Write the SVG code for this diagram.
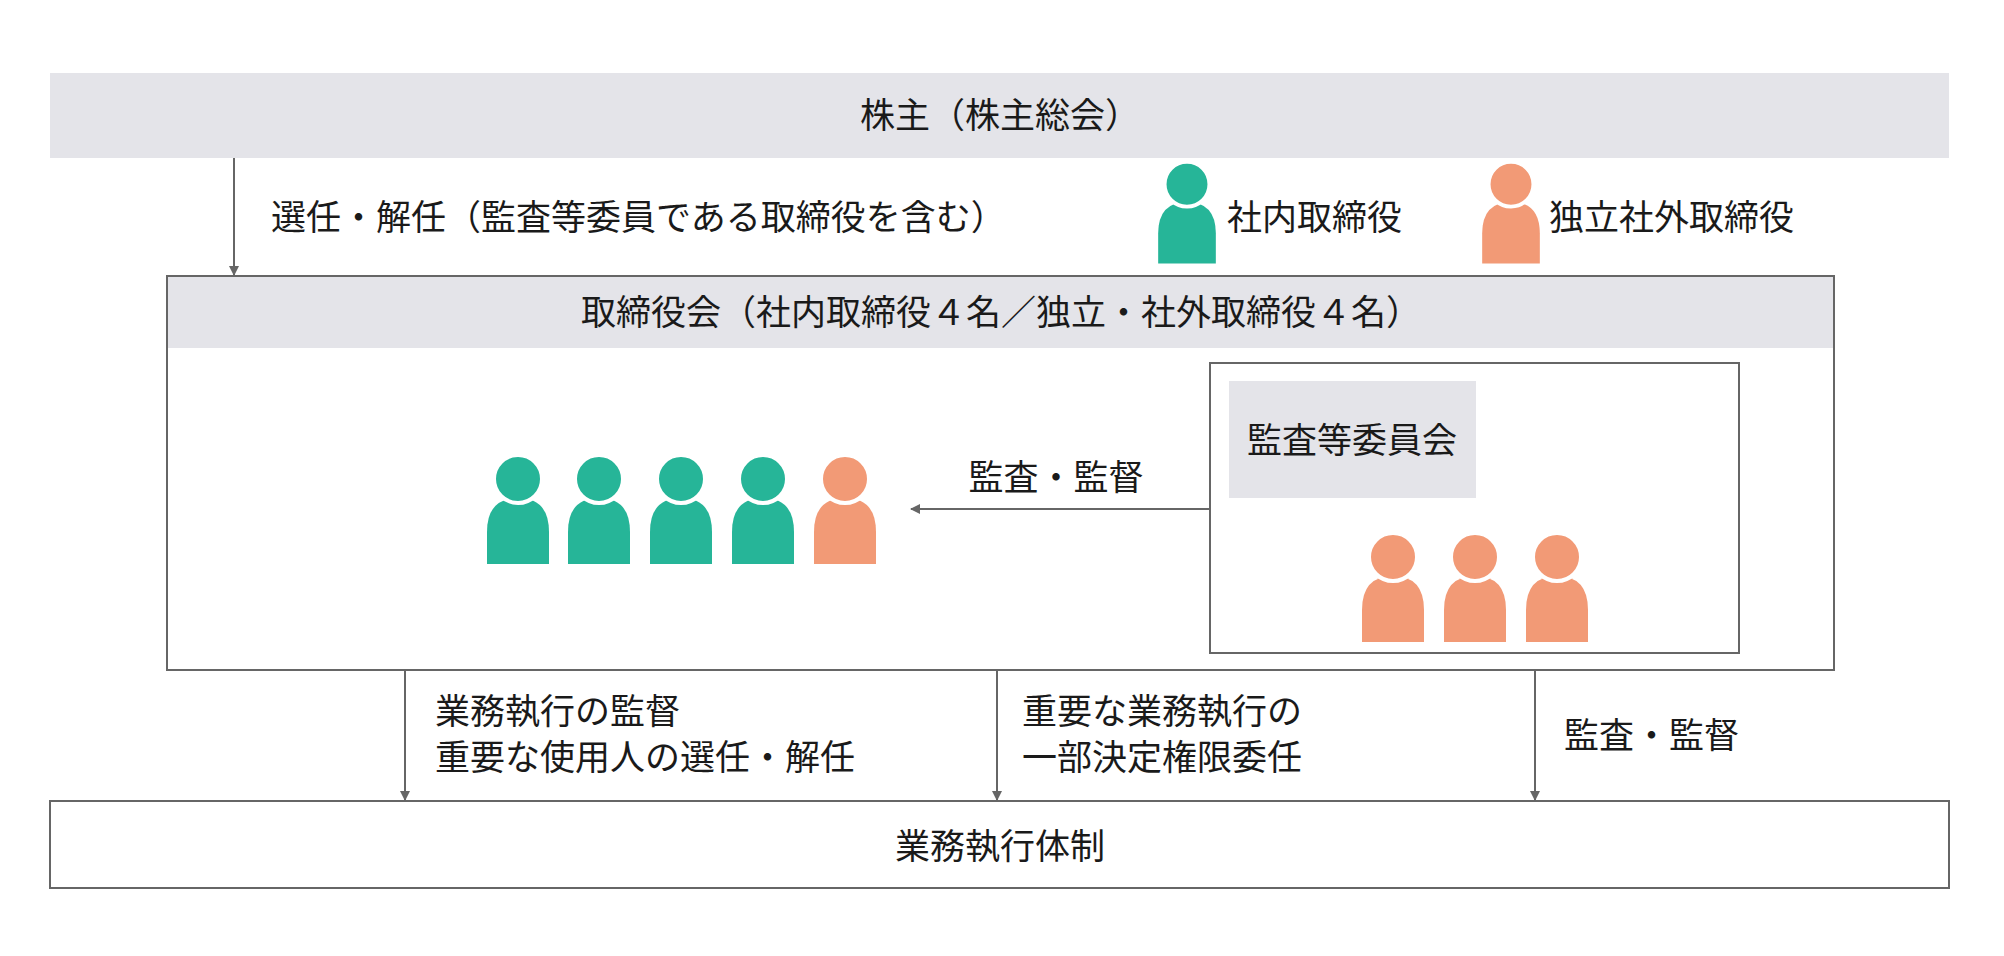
<svg xmlns="http://www.w3.org/2000/svg" width="2004" height="956" viewBox="0 0 2004 956">
<style>
text{font-family:"Noto Sans CJK JP","Noto Sans",sans-serif;font-size:35px;fill:#1a1a1a}
.c{text-anchor:middle}
.g{fill:#26b598}.o{fill:#f29a76}
.head{stroke:#fff;stroke-width:4}
.ln{stroke:#666;stroke-width:2;fill:none}
</style>
<defs>
<marker id="ar" markerWidth="10" markerHeight="10" refX="9" refY="5" orient="auto" markerUnits="userSpaceOnUse"><path d="M0,0L10,5L0,10Z" fill="#666"/></marker>
<g id="p"><path d="M-31,66V34Q-31,0 0,0Q31,0 31,34V66Z"/><circle class="head" cy="-19" r="24"/></g>
</defs>
<rect width="2004" height="956" fill="#fff"/>
<g id="shareholders"><rect x="50" y="73" width="1899" height="85" fill="#e4e4e9"/><text class="c" x="1000" y="128">株主（株主総会）</text></g>
<g id="legend">
<use href="#p" class="g" transform="translate(1187,202) scale(0.93)"/><text x="1227" y="230">社内取締役</text>
<use href="#p" class="o" transform="translate(1511,202) scale(0.93)"/><text x="1549" y="230">独立社外取締役</text>
</g>
<g id="board">
<rect x="167" y="276" width="1667" height="394" fill="#fff" stroke="#666" stroke-width="2"/>
<rect x="168" y="277" width="1665" height="71" fill="#e4e4e9"/>
<text class="c" x="1001" y="325">取締役会（社内取締役４名／独立・社外取締役４名）</text>
<use href="#p" class="g" x="518" y="498"/><use href="#p" class="g" x="599" y="498"/><use href="#p" class="g" x="681" y="498"/><use href="#p" class="g" x="763" y="498"/><use href="#p" class="o" x="845" y="498"/>
</g>
<g id="committee">
<rect x="1210" y="363" width="529" height="290" fill="#fff" stroke="#666" stroke-width="2"/>
<rect x="1229" y="381" width="247" height="117" fill="#e4e4e9"/>
<text class="c" x="1352" y="453">監査等委員会</text>
<use href="#p" class="o" x="1393" y="576"/><use href="#p" class="o" x="1475" y="576"/><use href="#p" class="o" x="1557" y="576"/>
</g>
<g id="execution"><rect x="50" y="801" width="1899" height="87" fill="#fff" stroke="#666" stroke-width="2"/><text class="c" x="1000" y="859">業務執行体制</text></g>
<g id="connectors">
<path class="ln" d="M234,158V275" marker-end="url(#ar)"/>
<path class="ln" d="M1210,509H911" marker-end="url(#ar)"/>
<path class="ln" d="M405,670V800" marker-end="url(#ar)"/>
<path class="ln" d="M997,670V800" marker-end="url(#ar)"/>
<path class="ln" d="M1535,670V800" marker-end="url(#ar)"/>
</g>
<g id="labels">
<text x="271" y="230">選任・解任（監査等委員である取締役を含む）</text>
<text class="c" x="1056" y="490">監査・監督</text>
<text x="435" y="724">業務執行の監督</text><text x="435" y="770">重要な使用人の選任・解任</text>
<text x="1022" y="724">重要な業務執行の</text><text x="1022" y="770">一部決定権限委任</text>
<text x="1564" y="748">監査・監督</text>
</g>
</svg>
